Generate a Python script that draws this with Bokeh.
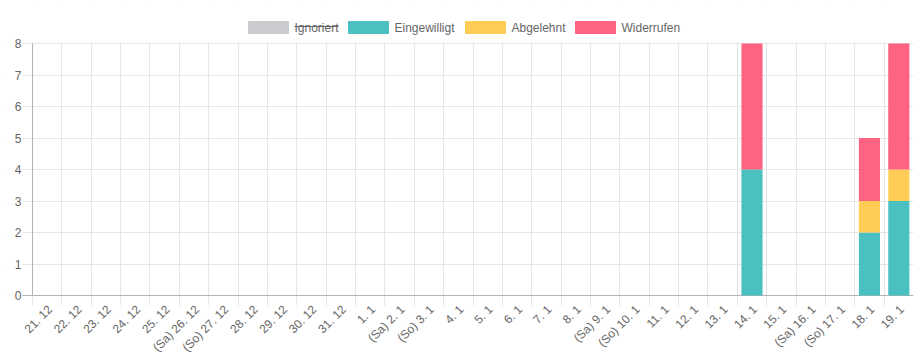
import math
from bokeh.plotting import figure
from bokeh.models import ColumnDataSource, FixedTicker, Range1d, Label, BoxAnnotation, Span
from bokeh.core.properties import value
from bokeh.embed import file_html
from bokeh.resources import INLINE

dates = ["21. 12", "22. 12", "23. 12", "24. 12", "25. 12", "(Sa) 26. 12", "(So) 27. 12",
         "28. 12", "29. 12", "30. 12", "31. 12", "1. 1", "(Sa) 2. 1", "(So) 3. 1", "4. 1",
         "5. 1", "6. 1", "7. 1", "8. 1", "(Sa) 9. 1", "(So) 10. 1", "11. 1", "12. 1", "13. 1",
         "14. 1", "15. 1", "(Sa) 16. 1", "(So) 17. 1", "18. 1", "19. 1"]

# hidden series (legend item struck through)
ignoriert = [0] * 30
eingewilligt = [0] * 24 + [4, 0, 0, 0, 2, 3]
abgelehnt = [0] * 24 + [0, 0, 0, 0, 1, 1]
widerrufen = [0] * 24 + [4, 0, 0, 0, 2, 4]

series = ["Ignoriert", "Eingewilligt", "Abgelehnt", "Widerrufen"]
colors = ["#c9cbcf", "#4bc0c0", "#ffcd56", "#ff6384"]
y_ticks = [0, 1, 2, 3, 4, 5, 6, 7, 8]
y_tick_labels = ["0", "1", "2", "3", "4", "5", "6", "7", "8"]

# ---- layout (pixels) ----
W, H = 914, 356
AXIS_X, PLOT_RIGHT = 32, 913         # pixel columns of the y axis and the right edge
PLOT_TOP, PLOT_BOTTOM = 43, 295      # pixel rows of the top and the zero line
TICK = 10
n = len(dates)
y_max = y_ticks[-1]
ppu_y = (PLOT_BOTTOM - PLOT_TOP) / y_max
ppu_x = (PLOT_RIGHT - AXIS_X) / n
y_lo = -(H - PLOT_BOTTOM) / ppu_y
y_hi = y_max + PLOT_TOP / ppu_y
x_lo = -AXIS_X / ppu_x

centers = [i + 0.5 for i in range(n)]
bounds = list(range(n + 1))

src = ColumnDataSource(dict(x=centers, label=dates, Eingewilligt=eingewilligt,
                            Abgelehnt=abgelehnt, Widerrufen=widerrufen))

p = figure(width=W, height=H, x_range=Range1d(x_lo, n), y_range=Range1d(y_lo, y_hi),
           output_backend="svg", toolbar_location=None,
           min_border_left=0, min_border_right=W - PLOT_RIGHT, min_border_top=0, min_border_bottom=0)
p.outline_line_color = None
p.xaxis.visible = False
p.yaxis.visible = False

# grids
p.xgrid.ticker = FixedTicker(ticks=bounds)
p.ygrid.ticker = FixedTicker(ticks=y_ticks)
p.xgrid.grid_line_color = "#e6e6e6"
p.ygrid.grid_line_color = "#e6e6e6"

# zero line (x axis line)
p.add_layout(Span(location=0, dimension="width", line_color="#b3b3b3", line_width=1, level="underlay"))

# white covers to limit grid lines to the plot area (+ tick marks)
def cover(**kw):
    p.add_layout(BoxAnnotation(fill_color="white", fill_alpha=1.0, line_color=None,
                               level="underlay", **kw))

cover(bottom=H - PLOT_TOP + 1, top=H, bottom_units="screen", top_units="screen")
cover(bottom=0, top=H - PLOT_BOTTOM - TICK, bottom_units="screen", top_units="screen")
cover(left=0, right=AXIS_X - TICK, left_units="screen", right_units="screen",
      bottom=0, top=H, bottom_units="screen", top_units="screen")

# bars
p.vbar_stack(series[1:], x="x", width=0.72, source=src,
             fill_color=colors[1:], line_color=None)

# y axis line
p.segment(x0=0, y0=y_ticks[0], x1=0, y1=y_max, line_color="#b3b3b3", line_width=1)

lbl_font = "Liberation Sans"
# x tick labels
p.text(x="x", y=0, text="label", source=src, angle=math.pi / 4,
       text_align="right", text_baseline="middle", x_offset=3, y_offset=12,
       text_font=value(lbl_font), text_font_size="12px", text_color="#666666")
# y tick labels
p.text(x=0, y=y_ticks, text=y_tick_labels, x_offset=-11,
       text_align="right", text_baseline="middle",
       text_font=value(lbl_font), text_font_size="12px", text_color="#666666")

# legend above the plot area (screen units relative to the frame)
box_left = [248, 348, 465, 575]
box_w, box_top, box_bottom = 40, H - 21, H - 33
text_y = H - 27
for name, col, bl in zip(series, colors, box_left):
    p.add_layout(BoxAnnotation(left=bl, right=bl + box_w, bottom=box_bottom, top=box_top,
                               left_units="screen", right_units="screen",
                               top_units="screen", bottom_units="screen",
                               fill_color=col, fill_alpha=1.0,
                               line_color=col, line_alpha=1.0, line_width=1))
    p.add_layout(Label(x=bl + 46, y=text_y, x_units="screen", y_units="screen",
                       text=name, text_font=lbl_font, text_font_size="12px",
                       text_color="#666666", text_baseline="middle"))

# strike-through for the hidden series
p.add_layout(BoxAnnotation(left=294, right=338, bottom=text_y + 0.5, top=text_y + 1.5,
                           left_units="screen", right_units="screen",
                           top_units="screen", bottom_units="screen",
                           fill_color="#666666", fill_alpha=1.0, line_color=None))

open("out.html", "w").write(file_html(p, INLINE))
